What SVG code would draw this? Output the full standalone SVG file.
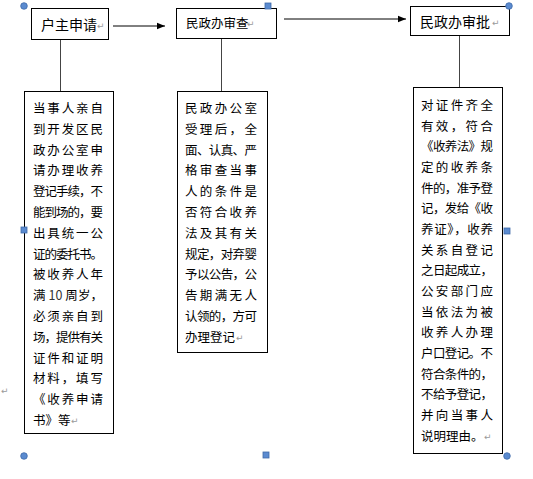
<svg xmlns="http://www.w3.org/2000/svg" width="533" height="479" viewBox="0 0 533 479">
<style>
.bx{fill:#fff;stroke:#000;stroke-width:1}
.t{font-family:"Noto Sans CJK SC","Liberation Sans",sans-serif;fill:#000}
.h{font-size:14px}
.b{font-size:12.5px}
.rm{font-family:"DejaVu Sans",sans-serif;font-size:9px;fill:#9a9a9a}
.ln{stroke:#000;stroke-width:1;fill:none}
.vl{stroke:#444;stroke-width:1;fill:none}
.hc{fill:#5b8bd0;stroke:#3f6aa8;stroke-width:0.8}
</style>
<defs>
<marker id="ah" viewBox="0 0 10 10" refX="10" refY="5" markerWidth="8" markerHeight="8" markerUnits="userSpaceOnUse" orient="auto">
<path d="M0,1 L10,5 L0,9 z" fill="#000"/>
</marker>
</defs>
<rect width="533" height="479" fill="#fff"/>

<g id="connectors">
<line class="ln" x1="113" y1="26" x2="165" y2="26" marker-end="url(#ah)"/>
<line class="ln" x1="284" y1="19" x2="406" y2="19" marker-end="url(#ah)"/>
<line class="vl" x1="60.5" y1="40" x2="60.5" y2="91"/>
<line class="vl" x1="221.5" y1="39" x2="221.5" y2="92"/>
<line class="vl" x1="459.5" y1="36" x2="459.5" y2="87"/>
</g>

<g id="n1">
<rect class="bx" x="31.5" y="8.5" width="77" height="31"/>
<text class="t h" x="41" y="30">户主申请</text>
<text class="rm" x="97" y="29">↵</text>
</g>

<g id="n2">
<rect class="bx" x="176.5" y="8.5" width="100" height="30"/>
<text class="t" font-size="12.5" x="186" y="28">民政办审查</text>
<text class="rm" x="247" y="27">↵</text>
</g>

<g id="n3">
<rect class="bx" x="410.5" y="6.5" width="99" height="29"/>
<text class="t h" x="420" y="27">民政办审批</text>
<text class="rm" x="492" y="26">↵</text>
</g>

<g id="d1">
<rect class="bx" x="24.5" y="91.5" width="89" height="342"/>
<g class="t b">
<text x="33" y="113" textLength="70" lengthAdjust="spacing">当事人亲自</text>
<text x="33" y="133.8" textLength="70" lengthAdjust="spacing">到开发区民</text>
<text x="33" y="154.6" textLength="70" lengthAdjust="spacing">政办公室申</text>
<text x="33" y="175.4" textLength="70" lengthAdjust="spacing">请办理收养</text>
<text x="33" y="196.2" textLength="70" lengthAdjust="spacing">登记手续，不</text>
<text x="33" y="217" textLength="70" lengthAdjust="spacing">能到场的，要</text>
<text x="33" y="237.8" textLength="70" lengthAdjust="spacing">出具统一公</text>
<text x="33" y="258.6" textLength="70" lengthAdjust="spacing">证的委托书。</text>
<text x="33" y="279.4" textLength="70" lengthAdjust="spacing">被收养人年</text>
<text x="33" y="300.2" textLength="70" lengthAdjust="spacing">满 <tspan fill="#333">10</tspan> 周岁，</text>
<text x="33" y="321" textLength="70" lengthAdjust="spacing">必须亲自到</text>
<text x="33" y="341.8" textLength="70" lengthAdjust="spacing">场，提供有关</text>
<text x="33" y="362.6" textLength="70" lengthAdjust="spacing">证件和证明</text>
<text x="33" y="383.4" textLength="70" lengthAdjust="spacing">材料，填写</text>
<text x="33" y="404.2" textLength="70" lengthAdjust="spacing">《收养申请</text>
<text x="33" y="425">书》等</text>
</g>
<text class="rm" x="71" y="424">↵</text>
</g>

<g id="d2">
<rect class="bx" x="177.5" y="91.5" width="90" height="261"/>
<g class="t b">
<text x="185" y="113" textLength="72" lengthAdjust="spacing">民政办公室</text>
<text x="185" y="133.8" textLength="72" lengthAdjust="spacing">受理后，全</text>
<text x="185" y="154.6" textLength="72" lengthAdjust="spacing">面、认真、严</text>
<text x="185" y="175.4" textLength="72" lengthAdjust="spacing">格审查当事</text>
<text x="185" y="196.2" textLength="72" lengthAdjust="spacing">人的条件是</text>
<text x="185" y="217" textLength="72" lengthAdjust="spacing">否符合收养</text>
<text x="185" y="237.8" textLength="72" lengthAdjust="spacing">法及其有关</text>
<text x="185" y="258.6" textLength="72" lengthAdjust="spacing">规定，对弃婴</text>
<text x="185" y="279.4" textLength="72" lengthAdjust="spacing">予以公告，公</text>
<text x="185" y="300.2" textLength="72" lengthAdjust="spacing">告期满无人</text>
<text x="185" y="321" textLength="72" lengthAdjust="spacing">认领的，方可</text>
<text x="185" y="341.8">办理登记</text>
</g>
<text class="rm" x="236" y="341">↵</text>
</g>

<g id="d3">
<rect class="bx" x="413.5" y="87.5" width="89" height="366"/>
<g class="t b">
<text x="421" y="110" textLength="72" lengthAdjust="spacing">对证件齐全</text>
<text x="421" y="130.6" textLength="72" lengthAdjust="spacing">有效，符合</text>
<text x="421" y="151.3" textLength="72" lengthAdjust="spacing">《收养法》规</text>
<text x="421" y="172" textLength="72" lengthAdjust="spacing">定的收养条</text>
<text x="421" y="192.6" textLength="72" lengthAdjust="spacing">件的，准予登</text>
<text x="421" y="213.3" textLength="72" lengthAdjust="spacing">记，发给《收</text>
<text x="421" y="234" textLength="72" lengthAdjust="spacing">养证》，收养</text>
<text x="421" y="254.6" textLength="72" lengthAdjust="spacing">关系自登记</text>
<text x="421" y="275.3" textLength="72" lengthAdjust="spacing">之日起成立，</text>
<text x="421" y="296" textLength="72" lengthAdjust="spacing">公安部门应</text>
<text x="421" y="316.6" textLength="72" lengthAdjust="spacing">当依法为被</text>
<text x="421" y="337.3" textLength="72" lengthAdjust="spacing">收养人办理</text>
<text x="421" y="358" textLength="72" lengthAdjust="spacing">户口登记。不</text>
<text x="421" y="378.6" textLength="72" lengthAdjust="spacing">符合条件的，</text>
<text x="421" y="399.3" textLength="72" lengthAdjust="spacing">不给予登记，</text>
<text x="421" y="420" textLength="72" lengthAdjust="spacing">并向当事人</text>
<text x="421" y="440.6">说明理由。</text>
</g>
<text class="rm" x="484" y="440">↵</text>
</g>

<g id="handles">
<circle class="hc" cx="24" cy="6" r="3.3"/>
<rect class="hc" x="265" y="3" width="6" height="6"/>
<circle class="hc" cx="509" cy="6" r="3.3"/>
<rect class="hc" x="21" y="227" width="6" height="6"/>
<rect class="hc" x="504" y="228" width="6" height="6"/>
<circle class="hc" cx="24" cy="456" r="3.3"/>
<rect class="hc" x="263" y="452" width="6" height="6"/>
<circle class="hc" cx="507" cy="456" r="3.3"/>
</g>
<text class="rm" x="1" y="394">↵</text>
</svg>
